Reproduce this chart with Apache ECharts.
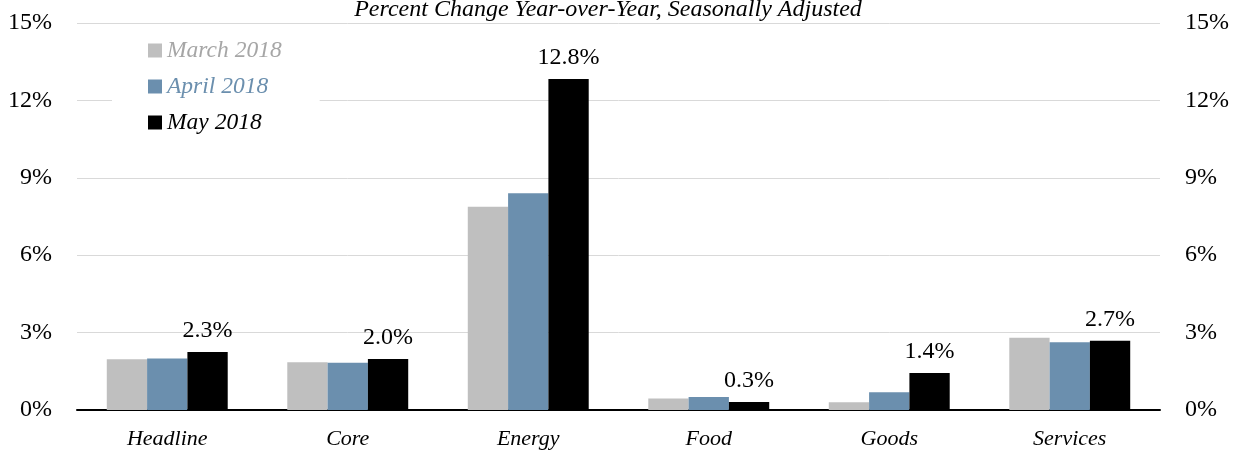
<!DOCTYPE html>
<html><head><meta charset="utf-8">
<script src="https://cdn.jsdelivr.net/npm/echarts@6/dist/echarts.min.js"></script>
<style>html,body{margin:0;padding:0;background:#fff}#c{width:1238px;height:456px}</style>
</head><body><div id="c"></div>
<script>
const categories = ['Headline', 'Core', 'Energy', 'Food', 'Goods', 'Services'];
const march2018 = [1.97, 1.85, 7.88, 0.45, 0.30, 2.80];
const april2018 = [2.00, 1.83, 8.40, 0.50, 0.69, 2.63];
const may2018 = [2.25, 1.98, 12.83, 0.31, 1.43, 2.68];
const mayLabels = ['2.3%', '2.0%', '12.8%', '0.3%', '1.4%', '2.7%'];
const yTicks = [0, 3, 6, 9, 12, 15];
const titleText = 'Percent Change Year-over-Year, Seasonally Adjusted';

const FONT = '"Liberation Serif", "DejaVu Serif", serif';
const chart = echarts.init(document.getElementById('c'), null, {renderer: 'canvas'});
const yAxisCommon = {
  type: 'value', min: 0, max: 15, interval: 3,
  axisLine: {show: false}, axisTick: {show: false},
  axisLabel: {fontFamily: FONT, fontSize: 24, color: '#000', margin: 25,
    formatter: v => yTicks.includes(v) ? v + '%' : ''},
};
chart.setOption({
  animation: false,
  title: {text: titleText, left: 603, top: -7, textAlign: 'center',
    textStyle: {fontFamily: FONT, fontStyle: 'italic', fontWeight: 'normal', fontSize: 24, color: '#000'}},
  grid: {left: 77, right: 78, top: 23, bottom: 46},
  legend: {
    orient: 'vertical', left: 112, top: 35, itemGap: 13,
    itemWidth: 14, itemHeight: 14, icon: 'rect',
    backgroundColor: '#fff', padding: [4, 38, 4, 36],
    textStyle: {fontFamily: FONT, fontStyle: 'italic', fontSize: 23.5},
    data: [
      {name: 'March 2018', textStyle: {color: '#a6a6a6'}},
      {name: 'April 2018', textStyle: {color: '#6b8fae'}},
      {name: 'May 2018', textStyle: {color: '#000'}}
    ]
  },
  xAxis: {
    type: 'category', data: categories,
    axisLine: {lineStyle: {color: '#000', width: 2}},
    axisTick: {show: false},
    axisLabel: {fontFamily: FONT, fontStyle: 'italic', fontSize: 22, color: '#000', margin: 18}
  },
  yAxis: [
    Object.assign({}, yAxisCommon, {position: 'left',
      splitLine: {lineStyle: {color: '#d9d9d9', width: 1}}}),
    Object.assign({}, yAxisCommon, {position: 'right', splitLine: {show: false}})
  ],
  series: [
    {name: 'March 2018', type: 'bar', data: march2018, itemStyle: {color: '#bfbfbf'},
      barGap: '0%', barCategoryGap: '33%'},
    {name: 'April 2018', type: 'bar', data: april2018, itemStyle: {color: '#6b8fae'},
      barGap: '0%', barCategoryGap: '33%'},
    {name: 'May 2018', type: 'bar', data: may2018, itemStyle: {color: '#000'},
      barGap: '0%', barCategoryGap: '33%',
      label: {show: true, position: 'top', distance: 9, fontFamily: FONT, fontSize: 24, color: '#000',
        formatter: p => mayLabels[p.dataIndex]}}
  ]
});
</script></body></html>
